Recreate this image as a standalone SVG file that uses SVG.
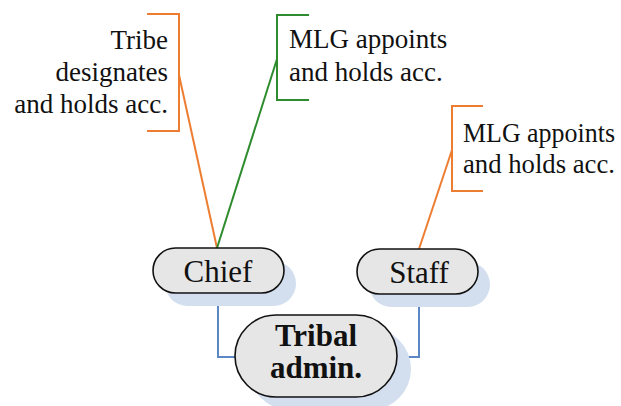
<svg xmlns="http://www.w3.org/2000/svg" width="621" height="406" viewBox="0 0 621 406">
<style>
.t{font-family:"Liberation Serif","DejaVu Serif",serif;font-size:27px;fill:#111}
.n{font-family:"Liberation Serif","DejaVu Serif",serif;font-size:31px;fill:#111;text-anchor:middle}
.b{font-weight:bold}
.pill{fill:#e6e6e6;stroke:#111;stroke-width:1.6}
.sh{fill:#d3deef}
.or{fill:none;stroke:#ED7D31;stroke-width:2}
.gr{fill:none;stroke:#2E8B2E;stroke-width:2}
.bl{fill:none;stroke:#5B87C5;stroke-width:2}
</style>
<rect width="621" height="406" fill="#fff"/>
<g id="connectors">
<path class="or" d="M147,14 H179 V131 H147"/>
<path class="or" d="M179,75 L217,248"/>
<path class="gr" d="M309,15 H277 V100 H309"/>
<path class="gr" d="M277,59 L217,248"/>
<path class="or" d="M483,106 H452 V191 H483"/>
<path class="or" d="M452,150 L419,249"/>
<path class="bl" d="M218,293 V357 H236"/>
<path class="bl" d="M419,294 V357 H397"/>
</g>
<g id="label-tribe">
<text class="t" text-anchor="end" x="168" y="49">Tribe</text>
<text class="t" text-anchor="end" x="168" y="81">designates</text>
<text class="t" text-anchor="end" x="168" y="113">and holds acc.</text>
</g>
<g id="label-mlg1">
<text class="t" x="289" y="48">MLG appoints</text>
<text class="t" x="289" y="81">and holds acc.</text>
</g>
<g id="label-mlg2">
<text class="t" x="463" y="142" textLength="152" lengthAdjust="spacingAndGlyphs">MLG appoints</text>
<text class="t" x="463" y="173" textLength="152" lengthAdjust="spacingAndGlyphs">and holds acc.</text>
</g>
<g id="chief">
<rect class="sh" x="165" y="261" width="131" height="45" rx="22.5"/>
<rect class="pill" x="153" y="248" width="131" height="45" rx="22.5"/>
<text class="n" x="218" y="282">Chief</text>
</g>
<g id="staff">
<rect class="sh" x="369" y="262" width="121" height="45" rx="22.5"/>
<rect class="pill" x="357" y="249" width="121" height="45" rx="22.5"/>
<text class="n" x="419" y="283">Staff</text>
</g>
<g id="tribal-admin">
<rect class="sh" x="249" y="328" width="162" height="82" rx="41"/>
<rect class="pill" x="235" y="315" width="162" height="82" rx="41"/>
<text class="n b" x="316" y="346">Tribal</text>
<text class="n b" x="316" y="378">admin.</text>
</g>
</svg>
